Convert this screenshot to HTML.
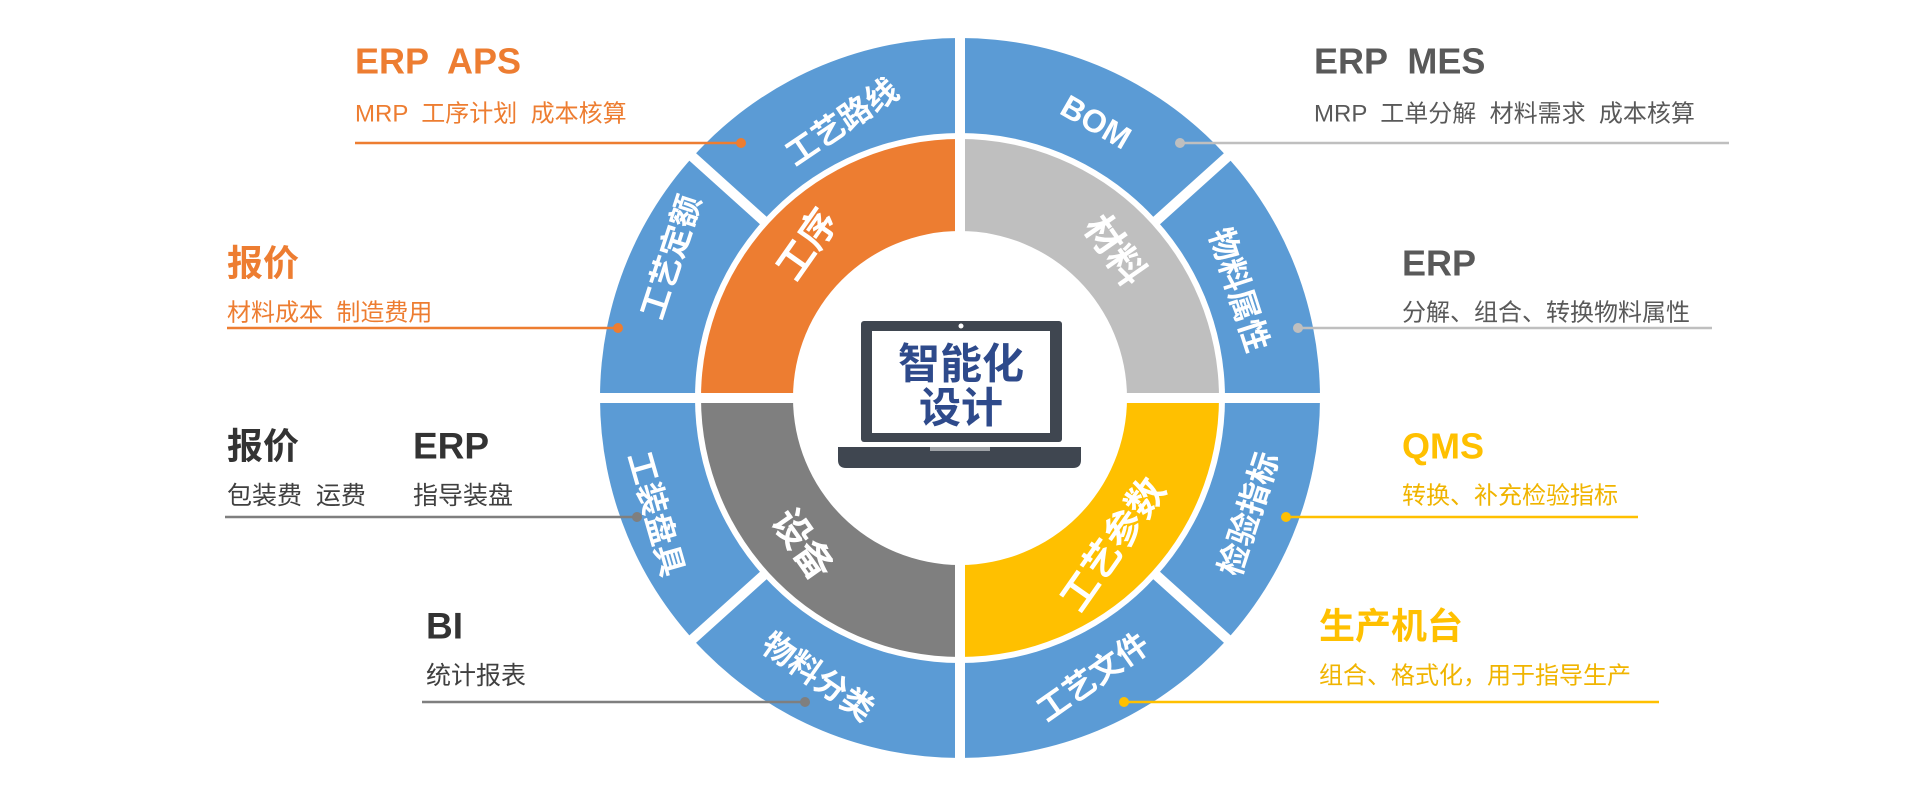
<!DOCTYPE html>
<html><head><meta charset="utf-8"><style>
html,body{margin:0;padding:0;background:#fff;}
svg{display:block;}
text{font-family:"Liberation Sans","Noto Sans CJK SC",sans-serif;}
.b{font-weight:bold;}
</style></head><body>
<svg width="1920" height="791" viewBox="0 0 1920 791" xmlns="http://www.w3.org/2000/svg">
<circle cx="960" cy="398" r="360" fill="#5B9BD5"/>
<circle cx="960" cy="398" r="265" fill="#fff"/>
<path d="M960 398 L960 139 A259 259 0 0 0 701 398 Z" fill="#ED7D31"/>
<path d="M960 398 L960 139 A259 259 0 0 1 1219 398 Z" fill="#BFBFBF"/>
<path d="M960 398 L701 398 A259 259 0 0 0 960 657 Z" fill="#7F7F7F"/>
<path d="M960 398 L1219 398 A259 259 0 0 1 960 657 Z" fill="#FFC000"/>
<circle cx="960" cy="398" r="167" fill="#fff"/>
<g stroke="#fff" stroke-width="10">
<line x1="960" y1="30" x2="960" y2="766"/>
<line x1="590" y1="398" x2="1330" y2="398"/>
<g transform="translate(960 398)">
<line x1="-195" y1="-176" x2="-275" y2="-248" />
<line x1="195" y1="-176" x2="275" y2="-248" />
<line x1="-195" y1="176" x2="-275" y2="248" />
<line x1="195" y1="176" x2="275" y2="248" />
</g>
</g>
<g fill="#fff" text-anchor="middle" dominant-baseline="central">
<g font-size="32">
<text class="b" transform="translate(842 122) rotate(-34)">工艺路线</text>
<text class="b" transform="translate(1096 122) rotate(30)">BOM</text>
<text class="b" transform="translate(671 257) rotate(-72)">工艺定额</text>
<text class="b" transform="translate(1239 290) rotate(72)">物料属性</text>
<text class="b" transform="translate(656 514) rotate(74)">工装盘具</text>
<text class="b" transform="translate(1249 514) rotate(-72)">检验指标</text>
<text class="b" transform="translate(818 677) rotate(35)">物料分类</text>
<text class="b" transform="translate(1093 677) rotate(-35)">工艺文件</text>
</g>
<g font-size="38">
<text class="b" transform="translate(808 245) rotate(-55)">工序</text>
<text class="b" transform="translate(1114 251) rotate(55)">材料</text>
<text class="b" transform="translate(802 545) rotate(55)">设备</text>
<text class="b" transform="translate(1114 545) rotate(-55)">工艺参数</text>
</g>
</g>
<rect x="861" y="321" width="201" height="121" rx="3" fill="#3F4650"/>
<rect x="872" y="331" width="178" height="102" fill="#fff"/>
<circle cx="961" cy="326" r="2.5" fill="#fff"/>
<path d="M838 447 H1081 V460 Q1081 468 1073 468 H846 Q838 468 838 460 Z" fill="#3F4650"/>
<rect x="930" y="447" width="60" height="4" fill="#fff" opacity="0.5"/>
<g fill="#2E4A8B" font-size="42" text-anchor="middle" dominant-baseline="central">
<text class="b" x="961" y="364">智能化</text>
<text class="b" x="961" y="408">设计</text>
</g>
<g dominant-baseline="central">
<text class="b" x="355" y="61" font-size="36" fill="#ED7D31" xml:space="preserve">ERP  APS</text>
<text x="355" y="114" font-size="24" fill="#ED7D31" xml:space="preserve">MRP  工序计划  成本核算</text>
<text class="b" x="1314" y="61" font-size="36" fill="#595959" xml:space="preserve">ERP  MES</text>
<text x="1314" y="114" font-size="24" fill="#595959" xml:space="preserve">MRP  工单分解  材料需求  成本核算</text>
<text class="b" x="227" y="263" font-size="36" fill="#ED7D31">报价</text>
<text x="227" y="313" font-size="24" fill="#ED7D31" xml:space="preserve">材料成本  制造费用</text>
<text class="b" x="1402" y="263" font-size="36" fill="#595959">ERP</text>
<text x="1402" y="313" font-size="24" fill="#595959">分解、组合、转换物料属性</text>
<text class="b" x="227" y="446" font-size="36" fill="#333">报价</text>
<text class="b" x="413" y="446" font-size="37" fill="#333">ERP</text>
<text x="227" y="496" font-size="25" fill="#404040" xml:space="preserve">包装费  运费</text>
<text x="413" y="496" font-size="25" fill="#404040">指导装盘</text>
<text class="b" x="1402" y="446" font-size="36" fill="#FFC000">QMS</text>
<text x="1402" y="496" font-size="24" fill="#F0B400">转换、补充检验指标</text>
<text class="b" x="426" y="626" font-size="37" fill="#333">BI</text>
<text x="426" y="676" font-size="25" fill="#404040">统计报表</text>
<text class="b" x="1319" y="626" font-size="36" fill="#FFC000">生产机台</text>
<text x="1319" y="676" font-size="24" fill="#F0B400">组合、格式化，用于指导生产</text>
</g>
<g stroke-width="2.5">
<line x1="355" y1="143" x2="741" y2="143" stroke="#ED7D31"/>
<line x1="1180" y1="143" x2="1729" y2="143" stroke="#BFBFBF"/>
<line x1="227" y1="328" x2="618" y2="328" stroke="#ED7D31"/>
<line x1="1298" y1="328" x2="1712" y2="328" stroke="#BFBFBF"/>
<line x1="225" y1="517" x2="637" y2="517" stroke="#7F7F7F"/>
<line x1="1286" y1="517" x2="1638" y2="517" stroke="#FFC000"/>
<line x1="422" y1="702" x2="805" y2="702" stroke="#7F7F7F"/>
<line x1="1124" y1="702" x2="1659" y2="702" stroke="#FFC000"/>
</g>
<circle cx="741" cy="143" r="5" fill="#ED7D31"/>
<circle cx="1180" cy="143" r="5" fill="#BFBFBF"/>
<circle cx="618" cy="328" r="5" fill="#ED7D31"/>
<circle cx="1298" cy="328" r="5" fill="#BFBFBF"/>
<circle cx="637" cy="517" r="5" fill="#7F7F7F"/>
<circle cx="1286" cy="517" r="5" fill="#FFC000"/>
<circle cx="805" cy="702" r="5" fill="#7F7F7F"/>
<circle cx="1124" cy="702" r="5" fill="#FFC000"/>
</svg>
</body></html>
